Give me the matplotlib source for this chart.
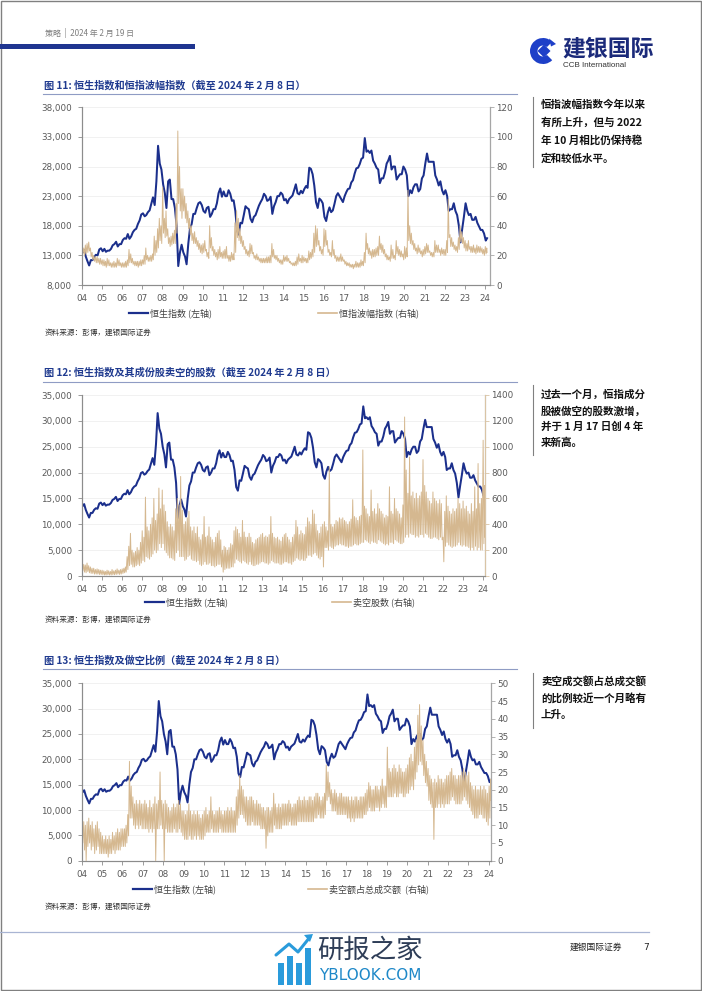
import numpy as np
import pandas as pd
import matplotlib
matplotlib.use('Agg')
import matplotlib.pyplot as plt
import matplotlib.ticker as mticker
from matplotlib.lines import Line2D
from matplotlib.patches import Rectangle, Wedge, Polygon

plt.rcParams['font.family'] = ['Noto Sans CJK SC', 'DejaVu Sans']

# ---------------- data ----------------
# Hang Seng Index, monthly, Jan 2004 .. Feb 2024
hsi = [
    13500, 13900, 12800, 12000, 11300, 12200, 12200, 12800, 13100, 13000, 14000, 14200,  # 2004
    13700, 14100, 13600, 13800, 13800, 14100, 14700, 14900, 15300, 14500, 14900, 14900,  # 2005
    15600, 15900, 15800, 16600, 15800, 16200, 16900, 17300, 17500, 18300, 18900, 19900,  # 2006
    20100, 19600, 19800, 20300, 20600, 21700, 22800, 21500, 25500, 31500, 28500, 27500,  # 2007
    25000, 23500, 21000, 25500, 25800, 22500, 22500, 21000, 18000, 11200, 13500, 14800,  # 2008
    13500, 12800, 11500, 15000, 17500, 18300, 20000, 20000, 21000, 21800, 22000, 21500,  # 2009
    20500, 20200, 21000, 21200, 19500, 20000, 20800, 20800, 21800, 23500, 24300, 22900,  # 2010
    23800, 23000, 23000, 24000, 23400, 22200, 22300, 20500, 17200, 16500, 18500, 18400,  # 2011
    19800, 21300, 21000, 20800, 19200, 18600, 19500, 19800, 20600, 21400, 22000, 22500,  # 2012
    23400, 23000, 22200, 22400, 22900, 20000, 21300, 22000, 23000, 23000, 23600, 23300,  # 2013
    22300, 22500, 21800, 22500, 22800, 23100, 24000, 25000, 23500, 23300, 23900, 23500,  # 2014
    24200, 24700, 24400, 27800, 27600, 26700, 24800, 22000, 21000, 22600, 22300, 21800,  # 2015
    19500, 18800, 20200, 21100, 20300, 20600, 21700, 23000, 23500, 23000, 22500, 22000,  # 2016
    23000, 23700, 24200, 24300, 25300, 25700, 26800, 27700, 27800, 28400, 29300, 29500,  # 2017
    32800, 30500, 30700, 30300, 30700, 29000, 28500, 27800, 27500, 25200, 26000, 26000,  # 2018
    27000, 28500, 29000, 29800, 27500, 28000, 28000, 25800, 26300, 26700, 26700, 28000,  # 2019
    27500, 26500, 23000, 24000, 23500, 24500, 25000, 25000, 23800, 24200, 26000, 26500,  # 2020
    28500, 30200, 28800, 28800, 28800, 28800, 26500, 25800, 24800, 25500, 24000, 23300,  # 2021
    24000, 23000, 20500, 20800, 20800, 21800, 20500, 19800, 18000, 15200, 17500, 19500,  # 2022
    21800, 20500, 19800, 20000, 19000, 19000, 19500, 18500, 17900, 17300, 17300, 16700,  # 2023
    15500, 15900,                                                                      # 2024
]

# VHSI volatility index: monthly high / low
vhsi_high = [
    26, 25, 27, 28, 29, 25, 22, 20, 19, 19, 18, 18,
    17, 17, 16, 18, 17, 15, 15, 16, 15, 18, 17, 15,
    15, 15, 16, 17, 24, 21, 18, 16, 16, 16, 16, 17,
    17, 20, 25, 20, 19, 20, 21, 33, 30, 38, 45, 40,
    66, 45, 50, 38, 32, 33, 35, 37, 55, 104, 80, 65,
    65, 60, 55, 50, 45, 40, 35, 36, 32, 30, 28, 27,
    28, 30, 24, 22, 40, 32, 26, 24, 22, 24, 26, 22,
    23, 24, 26, 20, 20, 22, 21, 42, 50, 45, 38, 33,
    30, 26, 24, 23, 28, 27, 22, 20, 21, 19, 18, 18,
    18, 18, 19, 19, 20, 28, 24, 20, 20, 18, 17, 17,
    20, 19, 20, 18, 16, 15, 15, 16, 19, 21, 18, 20,
    19, 18, 18, 23, 22, 24, 35, 40, 38, 30, 26, 24,
    38, 37, 30, 24, 22, 30, 24, 20, 19, 19, 21, 19,
    17, 16, 15, 15, 14, 14, 14, 16, 15, 15, 17, 16,
    22, 35, 28, 25, 23, 24, 24, 25, 26, 33, 28, 27,
    24, 21, 20, 19, 27, 24, 20, 30, 26, 24, 23, 21,
    26, 25, 64, 40, 35, 30, 28, 25, 27, 25, 23, 24,
    26, 28, 27, 23, 22, 22, 30, 27, 27, 24, 25, 24,
    24, 30, 58, 34, 32, 29, 27, 26, 32, 40, 36, 32,
    30, 28, 30, 26, 26, 27, 25, 27, 26, 26, 25, 24,
    26, 25,
]
vhsi_low = [
    21, 20, 21, 22, 23, 19, 17, 16, 15, 15, 14, 14,
    13, 13, 12, 13, 13, 12, 12, 12, 12, 13, 13, 12,
    12, 12, 12, 13, 15, 15, 14, 13, 13, 12, 13, 13,
    14, 14, 17, 16, 16, 16, 17, 20, 22, 25, 30, 28,
    35, 32, 33, 28, 26, 27, 28, 28, 35, 55, 50, 45,
    50, 45, 42, 38, 34, 30, 28, 28, 26, 24, 22, 21,
    22, 23, 19, 18, 25, 23, 20, 19, 17, 18, 19, 18,
    18, 18, 18, 16, 16, 17, 17, 22, 32, 30, 28, 26,
    24, 21, 20, 19, 21, 21, 18, 17, 17, 16, 15, 15,
    15, 15, 15, 15, 15, 19, 18, 17, 16, 15, 14, 14,
    16, 16, 16, 15, 14, 13, 13, 13, 14, 16, 15, 15,
    16, 15, 15, 17, 18, 19, 22, 26, 27, 23, 21, 20,
    26, 27, 22, 20, 19, 20, 18, 16, 16, 16, 16, 16,
    14, 13, 13, 12, 12, 11, 12, 12, 12, 12, 13, 13,
    15, 24, 21, 20, 18, 19, 19, 20, 20, 24, 22, 21,
    19, 17, 17, 16, 18, 18, 17, 21, 20, 19, 19, 17,
    18, 19, 30, 28, 27, 24, 23, 21, 22, 21, 19, 20,
    21, 22, 22, 20, 19, 19, 22, 22, 22, 20, 21, 20,
    20, 22, 32, 26, 26, 24, 23, 22, 24, 29, 28, 25,
    23, 23, 24, 22, 22, 22, 21, 22, 22, 22, 21, 20,
    21, 22,
]

# Shares sold short in HSI constituents: monthly high / low
short_shares_high = [
    110, 90, 85, 100, 80, 70, 60, 60, 50, 55, 50, 45,
    45, 40, 35, 45, 40, 35, 50, 40, 45, 55, 45, 50,
    55, 60, 70, 150, 230, 330, 200, 180, 190, 220, 200, 260,
    350, 300, 610, 380, 350, 400, 450, 600, 430, 480, 680, 520,
    665, 550, 500, 420, 380, 400, 380, 350, 520, 600, 550, 770,
    510, 400, 420, 450, 500, 380, 350, 380, 330, 380, 300, 280,
    320, 460, 300, 310, 380, 300, 280, 260, 300, 330, 350, 280,
    200, 230, 220, 200, 220, 250, 240, 350, 380, 360, 330, 300,
    430, 340, 300, 300, 330, 300, 260, 250, 280, 290, 300, 320,
    330, 300, 310, 300, 320, 460, 330, 300, 290, 300, 280, 270,
    300, 320, 330, 300, 280, 260, 300, 320, 430, 380, 320, 350,
    330, 320, 380, 450, 420, 400, 510, 480, 400, 350, 330, 380,
    400, 420, 380, 350, 845, 400, 380, 400, 430, 420, 450, 440,
    450, 430, 420, 400, 420, 440, 590, 460, 450, 430, 460, 470,
    975, 540, 520, 480, 460, 665, 500, 520, 480, 560, 520, 500,
    480, 450, 470, 460, 690, 500, 480, 600, 520, 500, 480, 450,
    550, 1230, 820, 640, 920, 620, 650, 600, 640, 600, 620, 650,
    900, 700, 650, 600, 580, 560, 650, 600, 580, 560, 590, 560,
    300, 500, 620, 540, 500, 480, 520, 500, 520, 600, 560, 520,
    580, 520, 540, 500, 480, 560, 500, 690, 520, 870, 560, 600,
    1050, 700,
]
short_shares_low = [
    40, 30, 25, 35, 25, 20, 20, 15, 15, 15, 12, 12,
    10, 8, 8, 10, 8, 8, 10, 10, 12, 15, 12, 15,
    20, 25, 30, 50, 80, 90, 70, 70, 80, 90, 80, 100,
    120, 110, 150, 140, 130, 150, 170, 200, 180, 200, 250, 220,
    250, 200, 180, 160, 140, 140, 130, 120, 180, 200, 150, 150,
    150, 120, 130, 150, 160, 130, 120, 120, 110, 120, 90, 80,
    90, 110, 90, 90, 100, 80, 80, 70, 80, 90, 90, 70,
    30, 50, 60, 60, 60, 70, 70, 100, 130, 120, 110, 100,
    120, 110, 100, 90, 110, 90, 80, 80, 90, 90, 100, 110,
    110, 100, 100, 90, 100, 120, 110, 100, 100, 100, 90, 90,
    100, 110, 110, 100, 100, 90, 110, 120, 140, 130, 120, 130,
    120, 120, 140, 160, 160, 150, 170, 180, 160, 140, 130, 150,
    70, 220, 220, 200, 230, 220, 210, 230, 240, 240, 250, 240,
    240, 230, 230, 220, 230, 230, 240, 250, 240, 240, 250, 260,
    260, 280, 270, 260, 250, 270, 260, 260, 250, 280, 270, 260,
    250, 240, 250, 240, 260, 260, 250, 280, 270, 260, 250, 250,
    260, 300, 320, 300, 330, 320, 320, 300, 310, 300, 320, 320,
    300, 330, 320, 300, 290, 290, 300, 300, 290, 280, 300, 280,
    110, 230, 260, 240, 230, 220, 230, 230, 240, 260, 240, 230,
    240, 230, 230, 220, 200, 220, 200, 230, 200, 220, 200, 200,
    250, 300,
]

# Short-selling turnover as % of total turnover: monthly high / low
short_ratio_high = [
    12, 11, 10, 11, 12, 10, 11, 9, 10, 11, 9, 8,
    7, 6, 7, 6, 7, 6, 8, 7, 8, 9, 8, 9,
    9, 9, 10, 13, 28, 21, 18, 16, 17, 16, 17, 16,
    16, 17, 16, 15, 17, 15, 16, 18, 16, 17, 25, 17,
    16, 17, 16, 15, 14, 15, 16, 15, 16, 17, 16, 14,
    14, 13, 14, 16, 14, 13, 14, 13, 14, 13, 12, 13,
    14, 15, 13, 14, 18, 14, 13, 14, 14, 15, 14, 13,
    14, 14, 15, 14, 15, 14, 14, 18, 20, 24, 21, 20,
    18, 18, 17, 18, 18, 17, 16, 17, 16, 16, 15, 15,
    14, 15, 15, 14, 15, 19, 16, 15, 16, 15, 16, 16,
    16, 16, 17, 16, 15, 16, 16, 17, 18, 17, 17, 18,
    17, 17, 18, 18, 17, 18, 19, 19, 18, 17, 18, 19,
    27, 25, 22, 20, 19, 20, 19, 18, 19, 19, 18, 18,
    18, 18, 17, 18, 17, 18, 18, 17, 18, 18, 18, 19,
    20, 22, 21, 20, 20, 21, 21, 20, 21, 23, 21, 21,
    32, 26, 25, 26, 27, 26, 25, 27, 26, 25, 25, 26,
    27, 29, 30, 28, 32, 34, 41, 44, 38, 34, 30, 28,
    26, 24, 23, 22, 23, 22, 24, 23, 23, 22, 23, 24,
    24, 25, 26, 24, 24, 23, 24, 24, 25, 26, 25, 24,
    25, 22, 21, 20, 21, 20, 20, 21, 20, 21, 20, 19,
    21, 23,
]
short_ratio_low = [
    5, 3, 0, 4, 5, 3, 4, 2, 3, 4, 2, 2,
    2, 2, 2, 1, 2, 2, 3, 2, 3, 3, 3, 4,
    4, 4, 5, 7, 12, 12, 10, 9, 10, 9, 10, 9,
    9, 9, 9, 8, 9, 8, 9, 0, 9, 9, 10, 9,
    0, 9, 8, 8, 8, 8, 9, 8, 8, 9, 8, 7,
    6, 6, 6, 7, 6, 6, 7, 6, 7, 6, 6, 6,
    7, 8, 8, 8, 9, 8, 8, 8, 8, 9, 8, 8,
    8, 8, 8, 8, 8, 8, 8, 10, 12, 13, 13, 12,
    11, 10, 10, 10, 11, 10, 10, 10, 10, 9, 9, 9,
    3.5, 7, 8, 8, 8, 10, 9, 9, 9, 9, 10, 10,
    10, 10, 11, 10, 10, 10, 10, 11, 11, 11, 11, 11,
    11, 11, 11, 11, 11, 12, 12, 13, 12, 12, 12, 13,
    17, 18, 16, 14, 14, 14, 13, 13, 13, 13, 13, 13,
    12, 12, 11, 12, 11, 12, 12, 12, 12, 12, 13, 13,
    14, 15, 14, 14, 14, 15, 15, 14, 15, 16, 15, 15,
    18, 18, 18, 18, 19, 18, 18, 19, 19, 18, 18, 19,
    19, 20, 21, 20, 23, 25, 27, 28, 27, 24, 22, 21,
    17, 16, 15, 6, 15, 15, 16, 15, 16, 15, 16, 16,
    16, 17, 18, 17, 16, 16, 16, 16, 17, 18, 17, 16,
    15, 14, 13, 12, 12, 12, 13, 13, 12, 12, 11, 10,
    12, 17,
]

year_labels = ['%02d' % (y % 100) for y in range(2004, 2025)]

# ---------------- helpers ----------------
W, H = 702, 991
fig = plt.figure(figsize=(W / 100, H / 100), dpi=100)

NAVY = '#1B2F8C'
TAN = '#D5B890'
TITLE_C = '#1F3A8F'
GREY_T = '#595959'
SPINE_C = '#8C8C8C'

month_starts = pd.date_range('2004-01-01', periods=len(hsi), freq='MS')
hsi_dates = month_starts + pd.Timedelta(days=14)
hsi_dates = hsi_dates[:-1].append(pd.DatetimeIndex(['2024-02-08']))


def zigzag(hi, lo):
    d_hi = month_starts + pd.Timedelta(days=6)
    d_lo = month_starts + pd.Timedelta(days=20)
    d_hi = d_hi[:-1].append(pd.DatetimeIndex(['2024-02-02']))
    d_lo = d_lo[:-1].append(pd.DatetimeIndex(['2024-02-08']))
    xs, ys = [], []
    for i in range(len(hi)):
        xs += [d_hi[i], d_lo[i]]
        ys += [hi[i], lo[i]]
    return pd.DatetimeIndex(xs), np.array(ys, dtype=float)


def px_rect(l, r, t, b):
    return [l / W, 1 - b / H, (r - l) / W, (b - t) / H]


# background axes in pixel coordinates
bg = fig.add_axes([0, 0, 1, 1])
bg.set_xlim(0, W)
bg.set_ylim(H, 0)
bg.axis('off')

# page frame
bg.add_patch(Rectangle((0.5, 0.5), W - 1.5, H - 1.5, fill=False, ec='#808080', lw=1.0))

# header
bg.text(45, 33, '策略  |  2024 年 2 月 19 日', fontsize=5.8, color='#7F7F7F', va='center', ha='left')
bg.add_patch(Rectangle((0, 43.5), 195, 5, fc='#1F3590', ec='none'))

# logo
logo_blue = '#1E40C8'
bg.add_patch(Wedge((543, 51), 13, 45, 315, width=7.5, fc=logo_blue, ec='none'))
bg.add_patch(Polygon([[544, 44.5], [550.5, 51], [544, 57.5], [537.5, 51]], closed=True,
                     fc=logo_blue, ec='none'))
bg.add_patch(Polygon([[549, 38.5], [556, 44], [551, 46.5]], closed=True, fc=logo_blue, ec='none'))
bg.text(562, 49, '建银国际', fontsize=16.5, fontweight='heavy', color='#1B2A7A',
        va='center', ha='left')
bg.text(563, 65.5, 'CCB International', fontsize=5.8, color='#333333', va='center', ha='left',
        family=['Liberation Sans'])

# footer
bg.plot([0, 649], [932, 932], color='#A9B5D3', lw=0.9)
bg.text(570, 947, '建银国际证券', fontsize=6.3, color='#222222', va='center', ha='left', fontstyle='italic')
bg.text(643, 947, '7', fontsize=6.5, color='#222222', va='center', ha='left', family=['DejaVu Sans'])
# watermark
wm_blue = '#2A9BDB'
for bx, top in zip([278, 287, 296, 305], [963, 956, 963, 948]):
    bg.add_patch(Rectangle((bx, top), 6, 985 - top, fc=wm_blue, ec='none'))
bg.plot([276, 289, 298, 310], [955, 944, 952, 937], color=wm_blue, lw=2.2, solid_capstyle='round')
bg.add_patch(Polygon([[304, 935], [313, 934], [310, 942]], closed=True, fc=wm_blue, ec='none'))
bg.text(317, 950, '研报之家', fontsize=19, fontweight='medium', color='#2E3D57', va='center', ha='left')
bg.text(319, 976, 'YBLOOK.COM', fontsize=11, color='#1E88C8', va='center', ha='left',
        family=['DejaVu Sans'])

# sidebar blocks
side_blocks = [
    ((97, 167), [105, 123, 140.5, 158.5],
     ['恒指波幅指数今年以来', '有所上升，但与 2022', '年 10 月相比仍保持稳', '定和较低水平。']),
    ((385, 455), [395, 411.5, 427, 443],
     ['过去一个月，恒指成分', '股被做空的股数激增，', '并于 1 月 17 日创 4 年', '来新高。']),
    ((673, 728), [681, 698, 715],
     ['卖空成交额占总成交额', '的比例较近一个月略有', '上升。']),
]
for (y0, y1), ys, lines in side_blocks:
    bg.plot([533, 533], [y0, y1], color='#808080', lw=0.8)
    for yy, tx in zip(ys, lines):
        bg.text(541, yy, tx, fontsize=7.6, fontweight='bold', color='#111111', va='center', ha='left')

# ---------------- charts ----------------
charts = [
    dict(title='图 11: 恒生指数和恒指波幅指数（截至 2024 年 2 月 8 日）', title_y=85, line_y=93.5,
         rect=(81.7, 490, 107.3, 285), xright='2024-04-01',
         ylim_l=(8000, 38000), step_l=5000, ylim_r=(0, 120), step_r=20,
         hi=vhsi_high, lo=vhsi_low, rspine='#A6A6A6',
         leg1=(129, 313, '恒生指数 (左轴)'), leg2=(318, 313, '恒指波幅指数 (右轴)'), src_y=333),
    dict(title='图 12: 恒生指数及其成份股卖空的股数（截至 2024 年 2 月 8 日）', title_y=372.7, line_y=381.7,
         rect=(81.7, 485, 395, 576), xright='2024-02-10',
         ylim_l=(0, 35000), step_l=5000, ylim_r=(0, 1400), step_r=200,
         hi=short_shares_high, lo=short_shares_low, rspine='#D9C4A5',
         leg1=(145, 602, '恒生指数 (左轴)'), leg2=(332, 602, '卖空股数 (右轴)'), src_y=620),
    dict(title='图 13: 恒生指数及做空比例（截至 2024 年 2 月 8 日）', title_y=660.7, line_y=669.3,
         rect=(81.7, 491, 683.3, 860.7), xright='2024-02-10',
         ylim_l=(0, 35000), step_l=5000, ylim_r=(0, 50), step_r=5,
         hi=short_ratio_high, lo=short_ratio_low, rspine='#A6A6A6',
         leg1=(133, 889, '恒生指数 (左轴)'), leg2=(308, 889, '卖空额占总成交额  (右轴)'), src_y=907),
]

year_ticks = pd.date_range('2004-01-01', '2024-01-01', freq='YS')

for c in charts:
    bg.text(44, c['title_y'], c['title'], fontsize=7.3, fontweight='bold', color=TITLE_C,
            va='center', ha='left')
    bg.plot([43, 517], [c['line_y'], c['line_y']], color='#8F9CC4', lw=0.8)
    bg.text(45, c['src_y'], '资料来源：彭博，建银国际证券', fontsize=5.5, fontweight='medium',
            color='#333333', va='center', ha='left', fontstyle='italic')

    l, r, t, b = c['rect']
    ax = fig.add_axes(px_rect(l, r, t, b))
    ax2 = ax.twinx()

    ax.plot(hsi_dates, hsi, color=NAVY, lw=1.45, zorder=3)
    zx, zy = zigzag(c['hi'], c['lo'])
    ax2.plot(zx, zy, color=TAN, lw=0.7, zorder=2)

    ax.set_xlim(pd.Timestamp('2004-01-01'), pd.Timestamp(c['xright']))
    ax.set_ylim(*c['ylim_l'])
    ax2.set_ylim(*c['ylim_r'])
    ax.set_yticks(np.arange(c['ylim_l'][0], c['ylim_l'][1] + 1, c['step_l']))
    ax2.set_yticks(np.arange(c['ylim_r'][0], c['ylim_r'][1] + 1, c['step_r']))
    ax.yaxis.set_major_formatter(mticker.FuncFormatter(lambda v, p: '{:,.0f}'.format(v)))
    ax2.yaxis.set_major_formatter(mticker.FuncFormatter(lambda v, p: '{:.0f}'.format(v)))
    ax.set_xticks(year_ticks)
    ax.set_xticklabels(year_labels)

    for a in (ax, ax2):
        for s in a.spines.values():
            s.set_color(SPINE_C)
            s.set_linewidth(0.8)
        a.spines['top'].set_visible(False)
        a.tick_params(colors=SPINE_C, labelcolor=GREY_T, labelsize=6.3, length=3, width=0.6)
        for lab in a.get_xticklabels() + a.get_yticklabels():
            lab.set_family(['DejaVu Sans'])
    ax2.spines['right'].set_color(c['rspine'])
    ax2.tick_params(axis='y', colors=c['rspine'], labelcolor=GREY_T)
    ax.spines['bottom'].set_color('#A6A6A6')
    ax.tick_params(axis='y', pad=4)
    ax2.tick_params(axis='y', pad=1.5)
    ax.tick_params(axis='x', pad=3.5)
    ax.grid(axis='y', color='#EFEFEF', lw=0.6)
    ax.set_axisbelow(True)

    # legends
    for (lx, ly, txt), col in [(c['leg1'], NAVY), (c['leg2'], TAN)]:
        h = Line2D([], [], color=col, lw=1.6 if col == NAVY else 1.2)
        leg = fig.legend(handles=[h], labels=[txt], loc='center left',
                         bbox_to_anchor=(lx / W, 1 - ly / H), frameon=False,
                         fontsize=6.5, handlelength=2.1, handletextpad=0.25,
                         borderpad=0, borderaxespad=0)
        for tt in leg.get_texts():
            tt.set_color('#404040')

fig.savefig('out.png', dpi=100)
